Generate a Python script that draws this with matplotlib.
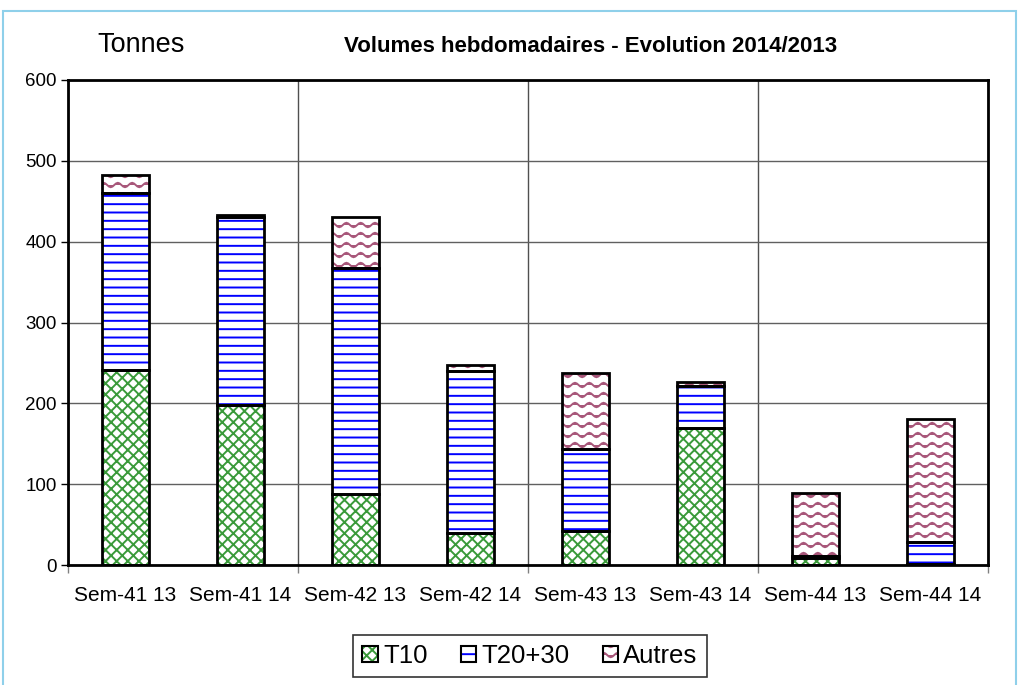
import warnings
import numpy as np
import matplotlib
matplotlib.use("Agg")
import matplotlib.pyplot as plt
from matplotlib import hatch as mhatch
from matplotlib.path import Path
from matplotlib.patches import Rectangle, Patch

warnings.filterwarnings("ignore")

categories = ['Sem-41 13', 'Sem-41 14', 'Sem-42 13', 'Sem-42 14',
              'Sem-43 13', 'Sem-43 14', 'Sem-44 13', 'Sem-44 14']
t10 = [241, 198, 88, 40, 42, 169, 9, 1]
t20 = [219, 232, 280, 200, 102, 52, 2, 27]
autres = [23, 3, 63, 7, 94, 6, 78, 153]

series = ['T10', 'T20+30', 'Autres']
colors = ['#3a9a3a', '#0000ff', '#a8577a']
hatches = ['xxx', '--', 'ww']


# wavy hatch for the "Autres" series
class WaveHatch(mhatch.HatchPatternBase):
    def __init__(self, hatch, density):
        self.num_rows = int(hatch.count('w') * 5)
        self.num_pts = 57
        self.num_vertices = self.num_rows * self.num_pts

    def set_vertices_and_codes(self, vertices, codes):
        xs = np.linspace(0, 1, self.num_pts)
        k = 0
        for i in range(self.num_rows):
            y0 = (i + 0.5) / self.num_rows
            ys = y0 + 0.022 * np.sin(2 * np.pi * 7 * xs)
            vertices[k:k + self.num_pts, 0] = xs
            vertices[k:k + self.num_pts, 1] = ys
            codes[k] = Path.MOVETO
            codes[k + 1:k + self.num_pts] = Path.LINETO
            k += self.num_pts


mhatch._hatch_types.append(WaveHatch)

plt.rcParams['font.family'] = ['Liberation Sans', 'DejaVu Sans']
plt.rcParams['hatch.linewidth'] = 1.4

fig = plt.figure(figsize=(10.19, 6.85), dpi=100)
ax = fig.add_axes([68 / 1019, 120 / 685, 920 / 1019, 485 / 685])

# light blue frame around the figure
fig.patches.append(Rectangle((3 / 1019, -0.05), 1013 / 1019, 1.05 - 11 / 685,
                             transform=fig.transFigure, fill=False,
                             edgecolor='#8fd0ea', linewidth=1.5))

x = np.arange(len(categories))
width = 0.41
bottom = np.zeros(len(categories))
for vals, col, h in zip([t10, t20, autres], colors, hatches):
    ax.bar(x, vals, width, bottom=bottom, color='white', edgecolor=col,
           hatch=h, linewidth=0, zorder=2)
    ax.bar(x, vals, width, bottom=bottom, fill=False, edgecolor='black',
           linewidth=2, zorder=3)
    bottom += np.array(vals)

ax.set_ylim(0, 600)
ax.set_xlim(-0.5, len(categories) - 0.5)
ax.set_yticks(range(0, 601, 100))
ax.set_xticks(x)
ax.set_xticklabels(categories)
ax.set_xticks([-0.5, 1.5, 3.5, 5.5, 7.5], minor=True)
ax.tick_params(axis='x', which='major', length=0, pad=15, labelsize=15)
ax.tick_params(axis='x', which='minor', length=6, width=1, color='#808080')
ax.tick_params(axis='y', length=5, width=1, labelsize=13.5, pad=3)

ax.grid(True, axis='y', color='#606060', linewidth=1, zorder=0)
ax.grid(True, axis='x', which='minor', color='#505050', linewidth=1, zorder=0)
for s in ax.spines.values():
    s.set_linewidth(2)
    s.set_zorder(4)

fig.text(97 / 1019, 1 - 45 / 685, 'Tonnes', fontsize=19.5, va='center')
fig.text(591 / 1019, 1 - 46 / 685, 'Volumes hebdomadaires - Evolution 2014/2013',
         fontsize=16, fontweight='bold', ha='center', va='center')

handles = [(Patch(facecolor='white', edgecolor=c, hatch=h, linewidth=0),
            Patch(fill=False, edgecolor='black', linewidth=1.5))
           for c, h in zip(colors, hatches)]
leg = fig.legend(handles, series, loc='center', bbox_to_anchor=(530 / 1019, 1 - 656 / 685),
                 ncol=3, fontsize=18.5, frameon=True, fancybox=False,
                 edgecolor='black', handlelength=0.6, handleheight=0.6,
                 handletextpad=0.2, columnspacing=1.3, borderpad=0.35)
leg.get_frame().set_linewidth(1.2)

fig.savefig('out.png', dpi=100)
